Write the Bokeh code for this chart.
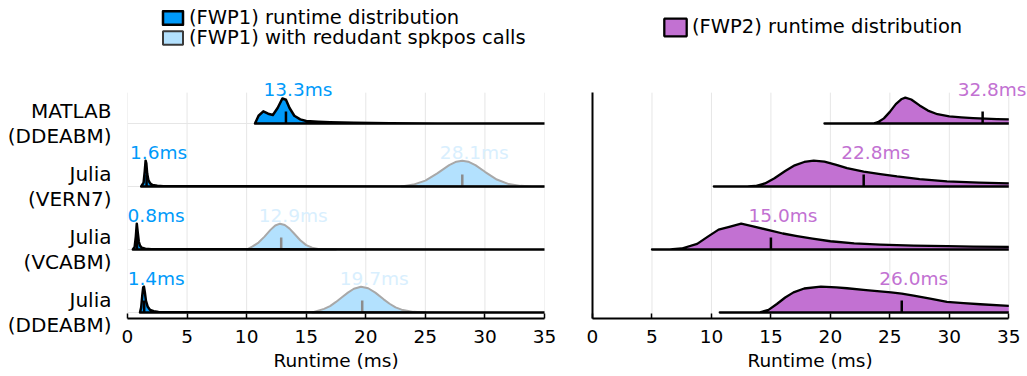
from bokeh.plotting import figure
from bokeh.layouts import row
from bokeh.models import (Label, Legend, LegendItem, FixedTicker, Range1d)
from bokeh.embed import file_html
from bokeh.resources import INLINE

# ---------------- data ----------------
solvers = ["MATLAB\n(DDEABM)", "Julia\n(VERN7)", "Julia\n(VCABM)", "Julia\n(DDEABM)"]

# (FWP1) runtime distribution: sample runtimes (ms) and relative density
fwp1_x = [
    [10.7, 11.0, 11.4, 11.8, 12.2, 12.6, 13.0, 13.3, 13.6, 14.0, 14.5, 15.0, 16.0, 17.0, 19.0, 22.0, 26.0, 35.0],
    [1.15, 1.35, 1.45, 1.52, 1.58, 1.65, 1.75, 1.9, 2.1, 2.5, 3.0, 35.0],
    [0.45, 0.6, 0.7, 0.78, 0.85, 0.95, 1.05, 1.2, 1.5, 2.0, 35.0],
    [1.05, 1.15, 1.25, 1.32, 1.38, 1.45, 1.55, 1.7, 1.9, 2.2, 2.6, 3.2, 35.0],
]
fwp1_d = [
    [0.0, 0.3, 0.47, 0.38, 0.33, 0.6, 0.97, 0.92, 0.6, 0.3, 0.16, 0.1, 0.07, 0.05, 0.03, 0.015, 0.005, 0.0],
    [0.0, 0.15, 0.6, 1.0, 0.9, 0.5, 0.25, 0.12, 0.06, 0.03, 0.01, 0.0],
    [0.0, 0.1, 0.5, 1.0, 0.7, 0.3, 0.15, 0.07, 0.03, 0.01, 0.0],
    [0.0, 0.2, 0.7, 0.98, 1.0, 0.8, 0.45, 0.22, 0.1, 0.05, 0.02, 0.01, 0.0],
]
fwp1_median = [13.3, 1.6, 0.8, 1.4]

# (FWP1) with redudant spkpos calls (Julia solvers only)
spk_rows = [1, 2, 3]
spk_x = [
    [23.0, 24.0, 25.0, 26.0, 27.0, 27.6, 28.1, 28.6, 29.2, 30.0, 31.0, 32.0, 33.0, 34.0, 35.0],
    [10.0, 10.5, 11.0, 11.5, 12.0, 12.4, 12.8, 13.2, 13.6, 14.0, 14.5, 15.0, 15.5, 16.0, 17.0, 17.5],
    [15.5, 16.5, 17.0, 17.5, 18.0, 18.5, 19.0, 19.6, 20.2, 20.8, 21.5, 22.0, 22.5, 23.0, 24.0, 25.0],
]
spk_d = [
    [0.0, 0.075, 0.23, 0.51, 0.83, 0.96, 1.0, 0.96, 0.83, 0.57, 0.27, 0.095, 0.025, 0.005, 0.0],
    [0.0, 0.12, 0.27, 0.5, 0.76, 0.93, 1.0, 0.95, 0.81, 0.61, 0.36, 0.17, 0.07, 0.024, 0.005, 0.0],
    [0.0, 0.14, 0.25, 0.41, 0.59, 0.77, 0.92, 1.0, 0.94, 0.77, 0.51, 0.34, 0.2, 0.11, 0.025, 0.0],
]
spk_median = [28.1, 12.9, 19.7]

# (FWP2) runtime distribution
fwp2_x = [
    [19.5, 23.6, 24.0, 24.5, 25.0, 25.5, 26.0, 26.3, 26.8, 27.5, 28.2, 29.0, 30.0, 31.0, 32.0, 33.0, 34.0, 35.0, 37.0, 40.0],
    [10.2, 13.0, 13.7, 14.5, 15.3, 16.2, 17.0, 17.8, 18.6, 19.5, 20.5, 21.4, 22.8, 24.2, 25.6, 27.5, 29.8, 32.5, 35.0, 38.0, 40.0],
    [5.0, 6.5, 7.5, 8.8, 9.7, 10.6, 11.5, 12.5, 13.5, 15.0, 16.0, 17.2, 18.5, 20.0, 22.0, 24.2, 27.0, 29.8, 32.0, 35.0, 38.0, 40.0],
    [10.7, 14.0, 14.8, 15.5, 16.2, 16.9, 17.8, 19.2, 20.5, 21.4, 23.0, 25.1, 26.0, 27.0, 28.5, 29.8, 31.2, 32.6, 35.0, 37.5, 40.0],
]
fwp2_d = [
    [0.0, 0.0, 0.05, 0.2, 0.45, 0.75, 0.95, 1.0, 0.93, 0.7, 0.5, 0.36, 0.28, 0.24, 0.21, 0.19, 0.17, 0.16, 0.12, 0.08],
    [0.0, 0.0, 0.02, 0.12, 0.32, 0.6, 0.82, 0.95, 1.0, 0.96, 0.84, 0.71, 0.58, 0.48, 0.39, 0.29, 0.2, 0.15, 0.12, 0.09, 0.07],
    [0.0, 0.0, 0.04, 0.22, 0.5, 0.77, 0.88, 1.0, 0.9, 0.73, 0.62, 0.52, 0.42, 0.32, 0.24, 0.19, 0.15, 0.13, 0.11, 0.1, 0.08, 0.07],
    [0.0, 0.0, 0.1, 0.33, 0.58, 0.78, 0.93, 1.0, 0.97, 0.94, 0.87, 0.78, 0.73, 0.65, 0.53, 0.41, 0.36, 0.32, 0.26, 0.2, 0.15],
]
fwp2_median = [32.8, 22.8, 15.0, 26.0]

x_ticks = [0, 5, 10, 15, 20, 25, 30, 35]
legend_labels = ["(FWP1) runtime distribution",
                 "(FWP1) with redudant spkpos calls",
                 "(FWP2) runtime distribution"]

# ---------------- style ----------------
FONT = "DejaVu Sans"
BLUE = "#009AFA"
LIGHT = "#B3E1FE"
LIGHT_LINE = "#A8A8A8"
LIGHT_TEXT = "#D9EFFE"
PURPLE = "#C271D2"
GRID = "#E6E6E6"
PEAK = 0.41      # height of each ridge (row units)
TICK = 0.19      # height of median mark
LAB = 0.54       # label height above baseline
LAB_FS = 18.5    # label font size (px)
N = len(solvers)
X_MAX = 35.0
Y_LO, Y_HI = 0.905, 4.49         # visible axes box (row units)
PX_PER_ROW = 63.0
FRAME_H = 318
Y_TOP = Y_LO + FRAME_H / PX_PER_ROW  # frame reaches the top of the canvas
ADV = {"m": 0.974, "s": 0.521, ".": 0.318}   # DejaVu advance widths (em)


def base_of(i):
    return N - i


def add_label(p, x, y, text, color, ppm, frame_w):
    """Label centred 12px right of x, kept inside the frame."""
    w = sum(ADV.get(c, 0.636) for c in text) * LAB_FS
    cx = x * ppm + 12
    off = 12
    if cx - w / 2 < 0:
        off = w / 2 - x * ppm
    elif cx + w / 2 > frame_w - 1:
        off = frame_w - 1 - w / 2 - x * ppm
    p.add_layout(Label(x=x, y=y, text=text, x_offset=off,
                       text_align="center", text_baseline="middle",
                       text_color=color, text_font=FONT, text_font_size="%gpx" % LAB_FS))


def make_fig(width, left, right, x_end):
    p = figure(width=width, height=376, output_backend="svg", toolbar_location=None,
               x_range=Range1d(0, x_end), y_range=Range1d(Y_LO, Y_TOP),
               min_border_left=left, min_border_right=right,
               min_border_top=0, min_border_bottom=376 - FRAME_H)
    p.outline_line_color = None
    p.background_fill_color = "white"
    p.border_fill_color = "white"
    xa = p.xaxis[0]
    xa.bounds = (0, X_MAX)
    xa.ticker = FixedTicker(ticks=x_ticks)
    xa.axis_line_color = "black"
    xa.axis_line_width = 2
    xa.major_tick_in = 5
    xa.major_tick_out = 0
    xa.major_tick_line_width = 1.5
    xa.minor_tick_line_color = None
    xa.major_label_text_font = FONT
    xa.major_label_text_font_size = "18.5px"
    xa.major_label_text_color = "black"
    xa.major_label_standoff = 11
    xa.axis_label = "Runtime (ms)"
    xa.axis_label_text_font = FONT
    xa.axis_label_text_font_size = "18.5px"
    xa.axis_label_text_font_style = "normal"
    xa.axis_label_text_color = "black"
    xa.axis_label_standoff = 4
    p.xgrid.grid_line_color = None
    # vertical grid lines limited to the axes box
    p.segment(x0=x_ticks, y0=[Y_LO] * len(x_ticks), x1=x_ticks, y1=[Y_HI] * len(x_ticks),
              line_color=GRID, line_width=1)
    ya = p.yaxis[0]
    ya.minor_tick_line_color = None
    ya.major_tick_line_color = None
    ya.major_tick_in = 0
    ya.major_tick_out = 0
    return p


def one_legend(p, label, r, loc, gw, gh, standoff):
    leg = Legend(items=[LegendItem(label=label, renderers=[r])], location=loc,
                 glyph_width=gw, glyph_height=gh, label_height=gh, label_standoff=standoff,
                 spacing=0, padding=0, margin=0, border_line_color=None,
                 background_fill_alpha=0, inactive_fill_alpha=0,
                 label_text_font=FONT,
                 label_text_font_size="19.5px", label_text_color="black",
                 label_text_baseline="middle")
    p.add_layout(leg, "center")


# ---------------- left panel ----------------
P1_FRAME = 568 - 127 - 24
p1 = make_fig(568, 127, 24, X_MAX)
ppm1 = P1_FRAME / X_MAX
ya = p1.yaxis[0]
ya.ticker = FixedTicker(ticks=[1, 2, 3, 4])
ya.axis_line_color = None
ya.major_label_overrides = {base_of(i): s for i, s in enumerate(solvers)}
ya.major_label_text_font = FONT
ya.major_label_text_font_size = "20px"
ya.major_label_text_line_height = 1.03
ya.major_label_text_color = "black"
ya.major_label_standoff = 16
p1.ygrid.ticker = FixedTicker(ticks=[1, 2, 3, 4])
p1.ygrid.grid_line_color = GRID
p1.ygrid.grid_line_width = 1

light_swatch = None
for k, i in enumerate(spk_rows):
    b = base_of(i)
    xs = spk_x[k] + [spk_x[k][-1], spk_x[k][0]]
    ys = [b + d * PEAK for d in spk_d[k]] + [b, b]
    p1.patch(xs, ys, fill_color=LIGHT, line_color=LIGHT_LINE, line_width=2, line_join="round")
    if light_swatch is None:
        # hidden copy that only styles the legend swatch
        light_swatch = p1.patch(xs, ys, fill_color=LIGHT, line_color="#3A3A3A",
                                line_width=2, visible=False)
    p1.segment(x0=[spk_median[k]], y0=[b], x1=[spk_median[k]], y1=[b + TICK],
               line_color="#8C8C8C", line_width=2.5)
    add_label(p1, spk_median[k], b + LAB, "%.1fms" % spk_median[k], LIGHT_TEXT, ppm1, P1_FRAME)

dark_r = None
for i in range(N):
    b = base_of(i)
    xs = fwp1_x[i] + [fwp1_x[i][-1], fwp1_x[i][0]]
    ys = [b + d * PEAK for d in fwp1_d[i]] + [b, b]
    r = p1.patch(xs, ys, fill_color=BLUE, line_color="black", line_width=2.5, line_join="round")
    dark_r = dark_r or r
    p1.segment(x0=[fwp1_median[i]], y0=[b], x1=[fwp1_median[i]], y1=[b + TICK],
               line_color="black", line_width=2.5)
    add_label(p1, fwp1_median[i], b + LAB, "%.1fms" % fwp1_median[i], BLUE, ppm1, P1_FRAME)

one_legend(p1, legend_labels[0], dark_r, (33, FRAME_H - 28.5), 25, 17, 4)
one_legend(p1, legend_labels[1], light_swatch, (33, FRAME_H - 48.5), 25, 17, 4)

# ---------------- right panel ----------------
P2_FRAME = 1027 - 568 - 24
p2 = make_fig(1027 - 568, 24, 0, X_MAX * P2_FRAME / 416.3)
ppm2 = 416.3 / X_MAX
ya2 = p2.yaxis[0]
ya2.ticker = FixedTicker(ticks=[])
ya2.bounds = (Y_LO, Y_HI)
ya2.axis_line_color = "black"
ya2.axis_line_width = 2
ya2.major_label_standoff = 0
p2.ygrid.grid_line_color = None

purple_swatch = None
for i in range(N):
    b = base_of(i)
    keep = [j for j, x in enumerate(fwp2_x[i]) if x <= X_MAX]
    cx = [fwp2_x[i][j] for j in keep]
    cy = [b + fwp2_d[i][j] * PEAK for j in keep]
    p2.patch(cx + [cx[-1], cx[0]], cy + [b, b], fill_color=PURPLE, line_color=None)
    if purple_swatch is None:
        purple_swatch = p2.patch(cx + [cx[-1], cx[0]], cy + [b, b], fill_color=PURPLE,
                                 line_color="black", line_width=2.3, visible=False)
    p2.line([cx[-1]] + cx, [b] + cy, line_color="black", line_width=2.3, line_join="round")
    p2.segment(x0=[fwp2_median[i]], y0=[b], x1=[fwp2_median[i]], y1=[b + TICK],
               line_color="black", line_width=2.5)
    add_label(p2, fwp2_median[i], b + LAB, "%.1fms" % fwp2_median[i], PURPLE, ppm2, P2_FRAME)

one_legend(p2, legend_labels[2], purple_swatch, (69, FRAME_H - 38), 28, 22, 3)

layout = row(p1, p2)
open("out.html", "w").write(file_html(layout, INLINE))
